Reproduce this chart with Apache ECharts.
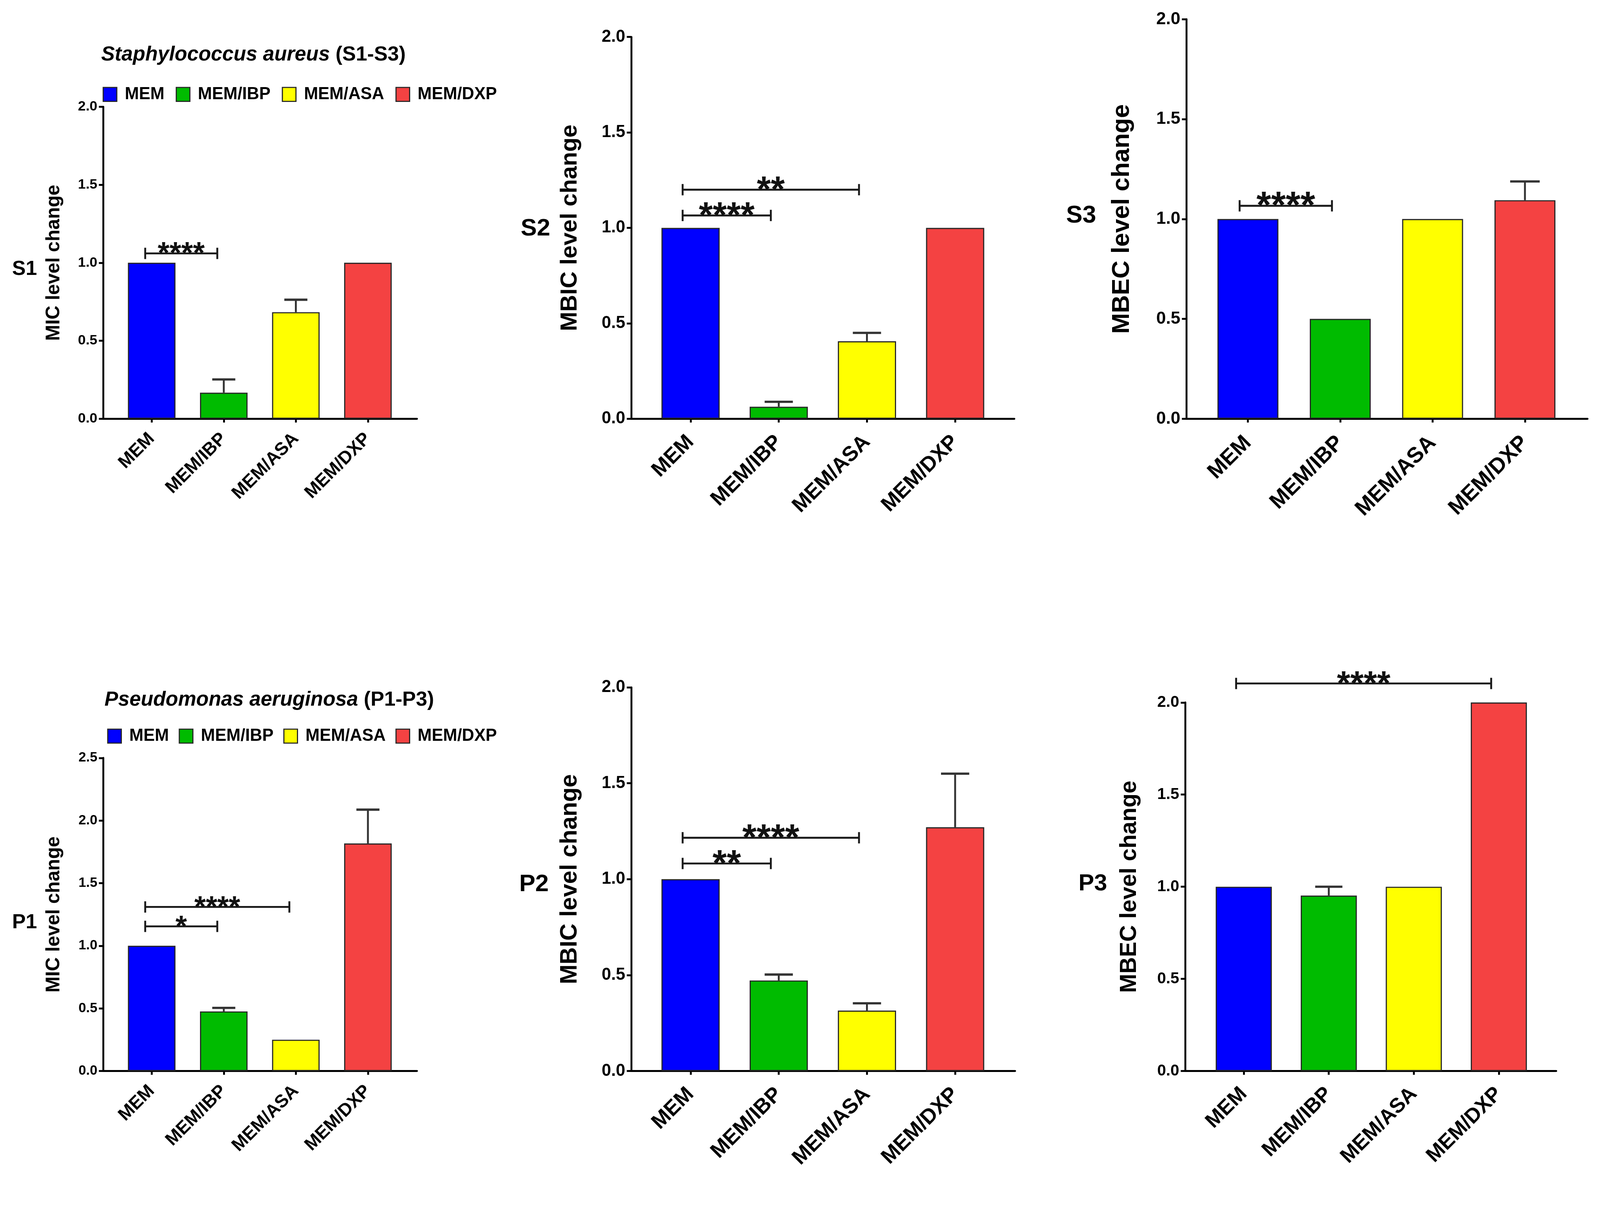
<!DOCTYPE html>
<html>
<head>
<meta charset="utf-8">
<script src="https://cdn.jsdelivr.net/npm/echarts@6/dist/echarts.min.js"></script>
<style>
html,body{margin:0;padding:0;background:#ffffff;overflow:hidden;}
#chart{position:absolute;left:0;top:0;}
</style>
</head>
<body>
<div id="chart"></div>
<script>
// ---------------- DATA ----------------
const categories = ['MEM', 'MEM/IBP', 'MEM/ASA', 'MEM/DXP'];
const yTicks02 = [0.0, 0.5, 1.0, 1.5, 2.0];
const yTicks025 = [0.0, 0.5, 1.0, 1.5, 2.0, 2.5];

const s1Values = [1.0, 0.167, 0.683, 1.0];
const s1Errors = [0, 0.085, 0.080, 0];
const s1Sig = [[0, 1, 1.06]];
const s1SigText = ['****'];

const s2Values = [1.0, 0.063, 0.406, 1.0];
const s2Errors = [0, 0.026, 0.044, 0];
const s2Sig = [[0, 1, 1.065], [0, 2, 1.20]];
const s2SigText = ['****', '**'];

const s3Values = [1.0, 0.5, 1.0, 1.094];
const s3Errors = [0, 0, 0, 0.094];
const s3Sig = [[0, 1, 1.066]];
const s3SigText = ['****'];

const p1Values = [1.0, 0.476, 0.25, 1.817];
const p1Errors = [0, 0.028, 0, 0.27];
const p1Sig = [[0, 1, 1.155], [0, 2, 1.31]];
const p1SigText = ['*', '****'];

const p2Values = [1.0, 0.472, 0.315, 1.271];
const p2Errors = [0, 0.031, 0.038, 0.279];
const p2Sig = [[0, 1, 1.082], [0, 2, 1.216]];
const p2SigText = ['**', '****'];

const p3Values = [1.0, 0.952, 1.0, 2.0];
const p3Errors = [0, 0.048, 0, 0];
const p3Sig = [[0, 3, 2.103]];
const p3SigText = ['****'];

const yNameMIC = 'MIC level change';
const yNameMBIC = 'MBIC level change';
const yNameMBEC = 'MBEC level change';

// ---------------- STYLE / LAYOUT (design units: 4240 x 3101) ----------------
const FONT = '"Liberation Sans", Arial, Helvetica, sans-serif';
const barColors = ['#0000ff', '#00bb00', '#ffff00', '#f44242'];
const INK = '#000000';
const DESIGN_W = 4240, DESIGN_H = 3101;

const VW = window.innerWidth || DESIGN_W;
const VH = window.innerHeight || DESIGN_H;
const K = Math.min(VW / DESIGN_W, VH / DESIGN_H);
const s = v => v * K;

const layouts = {
  S1: {axisX: 274, endX: 1105, top: 283, base: 1110, t0: 402, d: 191, tickFs: 37, xFs: 48, nameFs: 51, nameX: 143, starFs: 80, tag: {text: 'S1', x: 65, y: 714, fs: 54}},
  S2: {axisX: 1673, endX: 2688, top: 98, base: 1110, t0: 1830, d: 233.7, tickFs: 45, xFs: 56, nameFs: 62, nameX: 1511, starFs: 95, tag: {text: 'S2', x: 1419, y: 607, fs: 64}},
  S3: {axisX: 3144, endX: 4207, top: 51, base: 1110, t0: 3307, d: 244.7, tickFs: 46, xFs: 58, nameFs: 66, nameX: 2974, starFs: 100, tag: {text: 'S3', x: 2865, y: 572, fs: 65}},
  P1: {axisX: 274, endX: 1105, top: 2009, base: 2839, t0: 402, d: 191, tickFs: 36, xFs: 48, nameFs: 51, nameX: 143, starFs: 78, tag: {text: 'P1', x: 65, y: 2446, fs: 54}},
  P2: {axisX: 1673, endX: 2690, top: 1822, base: 2839, t0: 1830, d: 233.7, tickFs: 45, xFs: 56, nameFs: 63, nameX: 1511, starFs: 97, tag: {text: 'P2', x: 1415, y: 2345, fs: 64}},
  P3: {axisX: 3141, endX: 4124, top: 1862, base: 2839, t0: 3296, d: 225.3, tickFs: 42, xFs: 55, nameFs: 61, nameX: 2993, starFs: 91, tag: {text: 'P3', x: 2896, y: 2343, fs: 62}}
};

const grids = [], xAxes = [], yAxes = [], series = [], graphics = [];

function addPanel(L, ticks, values, errors, sig, sigText, yName) {
  const gA = grids.length;
  const gB = gA + 1;
  const yMin = ticks[0], yMax = ticks[ticks.length - 1], yInt = ticks[1] - ticks[0];
  grids.push({left: s(L.axisX), top: s(L.top), width: s(L.endX - L.axisX), height: s(L.base - L.top)});
  grids.push({left: s(L.t0 - L.d / 2), top: s(L.top), width: s(4 * L.d), height: s(L.base - L.top)});

  xAxes.push({
    gridIndex: gA, type: 'value', min: 0, max: 1,
    axisLine: {show: true, onZero: false, lineStyle: {color: INK, width: s(5)}},
    axisTick: {show: false}, axisLabel: {show: false}, splitLine: {show: false}
  });
  yAxes.push({
    gridIndex: gA, type: 'value', min: yMin, max: yMax, interval: yInt,
    axisLine: {show: true, onZero: false, lineStyle: {color: INK, width: s(5)}},
    axisTick: {show: true, length: s(12), lineStyle: {color: INK, width: s(5)}},
    axisLabel: {show: true, margin: s(16), color: INK, fontSize: s(L.tickFs), fontWeight: 'bold', fontFamily: FONT,
      formatter: v => Number(v).toFixed(1)},
    splitLine: {show: false},
    name: yName, nameLocation: 'middle', nameRotate: 90,
    nameGap: s(L.axisX - L.nameX - L.nameFs * 0.5),
    nameTextStyle: {color: INK, fontSize: s(L.nameFs), fontWeight: 'bold', fontFamily: FONT}
  });
  xAxes.push({
    gridIndex: gB, type: 'category', data: categories,
    axisLine: {show: false},
    axisTick: {show: true, alignWithLabel: true, length: s(10), lineStyle: {color: INK, width: s(5)}},
    axisLabel: {interval: 0, rotate: 45, margin: s(L.xFs * 0.95), color: INK, fontSize: s(L.xFs), fontWeight: 'bold', fontFamily: FONT},
    splitLine: {show: false}
  });
  yAxes.push({gridIndex: gB, type: 'value', min: yMin, max: yMax, interval: yInt, show: false});

  categories.forEach((name, k) => {
    series.push({
      type: 'bar', name: name, xAxisIndex: gB, yAxisIndex: gB,
      barWidth: '66%', barGap: '-100%',
      data: values.map((v, i) => (i === k ? v : '-')),
      itemStyle: {color: barColors[k], borderColor: '#262626', borderWidth: s(3)},
      emphasis: {disabled: true}, silent: true
    });
  });

  series.push({
    type: 'custom', xAxisIndex: gB, yAxisIndex: gB, z: 4, silent: true,
    encode: {x: 0, y: 1},
    data: values.map((v, i) => [i, v, errors[i]]).filter(r => r[2] > 0),
    renderItem: function (params, api) {
      const i = api.value(0), v = api.value(1), e = api.value(2);
      const p0 = api.coord([i, v]);
      const p1 = api.coord([i, v + e]);
      const half = api.size([1, 0])[0] * 0.16;
      return {
        type: 'group', children: [
          {type: 'line', shape: {x1: p0[0], y1: p0[1], x2: p1[0], y2: p1[1]}, style: {stroke: '#333333', lineWidth: s(5)}},
          {type: 'line', shape: {x1: p1[0] - half, y1: p1[1], x2: p1[0] + half, y2: p1[1]}, style: {stroke: '#333333', lineWidth: s(6)}}
        ]
      };
    }
  });

  series.push({
    type: 'custom', xAxisIndex: gB, yAxisIndex: gB, z: 5, silent: true, clip: false,
    encode: {x: [0, 1], y: 2},
    data: sig,
    renderItem: function (params, api) {
      const a = api.value(0), b = api.value(1), y = api.value(2);
      const band = api.size([1, 0])[0];
      const pa = api.coord([a, y]);
      const pb = api.coord([b, y]);
      const xa = pa[0] - 0.09 * band, xb = pb[0] - 0.09 * band, yy = pa[1];
      const cap = s(15);
      const fs = s(L.starFs);
      return {
        type: 'group', children: [
          {type: 'line', shape: {x1: xa, y1: yy, x2: xb, y2: yy}, style: {stroke: '#1a1a1a', lineWidth: s(5)}},
          {type: 'line', shape: {x1: xa, y1: yy - cap, x2: xa, y2: yy + cap}, style: {stroke: '#1a1a1a', lineWidth: s(5)}},
          {type: 'line', shape: {x1: xb, y1: yy - cap, x2: xb, y2: yy + cap}, style: {stroke: '#1a1a1a', lineWidth: s(5)}},
          {type: 'text', x: (xa + xb) / 2, y: yy + 0.05 * fs,
            style: {text: sigText[params.dataIndex], fill: '#111111',
              font: 'bold ' + fs + 'px ' + FONT, fontSize: fs, fontWeight: 'bold', fontFamily: FONT,
              textAlign: 'center', align: 'center', textVerticalAlign: 'middle', verticalAlign: 'middle'}}
        ]
      };
    }
  });

  const tfs = s(L.tag.fs);
  graphics.push({
    type: 'text', x: s(L.tag.x), y: s(L.tag.y), silent: true,
    style: {text: L.tag.text, fill: INK, font: 'bold ' + tfs + 'px ' + FONT,
      fontSize: tfs, fontWeight: 'bold', fontFamily: FONT,
      textAlign: 'center', align: 'center', textVerticalAlign: 'middle', verticalAlign: 'middle'}
  });
}

addPanel(layouts.S1, yTicks02, s1Values, s1Errors, s1Sig, s1SigText, yNameMIC);
addPanel(layouts.S2, yTicks02, s2Values, s2Errors, s2Sig, s2SigText, yNameMBIC);
addPanel(layouts.S3, yTicks02, s3Values, s3Errors, s3Sig, s3SigText, yNameMBEC);
addPanel(layouts.P1, yTicks025, p1Values, p1Errors, p1Sig, p1SigText, yNameMIC);
addPanel(layouts.P2, yTicks02, p2Values, p2Errors, p2Sig, p2SigText, yNameMBIC);
addPanel(layouts.P3, yTicks02, p3Values, p3Errors, p3Sig, p3SigText, yNameMBEC);

const titleRich = {
  i: {fontStyle: 'italic', fontWeight: 'bold', fontSize: s(54), fontFamily: FONT, color: INK, lineHeight: s(60)},
  n: {fontStyle: 'normal', fontWeight: 'bold', fontSize: s(54), fontFamily: FONT, color: INK, lineHeight: s(60)}
};

function legendAt(left, top, gap) {
  return {
    left: s(left), top: s(top), padding: 0, orient: 'horizontal',
    itemWidth: s(36), itemHeight: s(37), itemGap: s(gap), icon: 'rect',
    data: categories, selectedMode: false,
    itemStyle: {borderColor: '#262626', borderWidth: s(3)},
    textStyle: {color: INK, fontSize: s(45), fontWeight: 'bold', fontFamily: FONT, padding: [0, 0, 0, s(16)]}
  };
}

const option = {
  backgroundColor: '#ffffff',
  animation: false,
  textStyle: {fontFamily: FONT},
  title: [
    {text: '{i|Staphylococcus aureus}{n| (S1-S3)}', left: s(268), top: s(116), padding: 0,
      textStyle: {fontSize: s(54), fontWeight: 'bold', fontFamily: FONT, color: INK, rich: titleRich}},
    {text: '{i|Pseudomonas aeruginosa}{n| (P1-P3)}', left: s(277), top: s(1826), padding: 0,
      textStyle: {fontSize: s(54), fontWeight: 'bold', fontFamily: FONT, color: INK, rich: titleRich}}
  ],
  legend: [legendAt(272, 228, 30), legendAt(284, 1929, 26)],
  grid: grids,
  xAxis: xAxes,
  yAxis: yAxes,
  series: series,
  graphic: graphics
};

const el = document.getElementById('chart');
el.style.width = Math.round(DESIGN_W * K) + 'px';
el.style.height = Math.round(DESIGN_H * K) + 'px';
const chart = echarts.init(el, null, {renderer: 'canvas'});
chart.setOption(option);
</script>
</body>
</html>
